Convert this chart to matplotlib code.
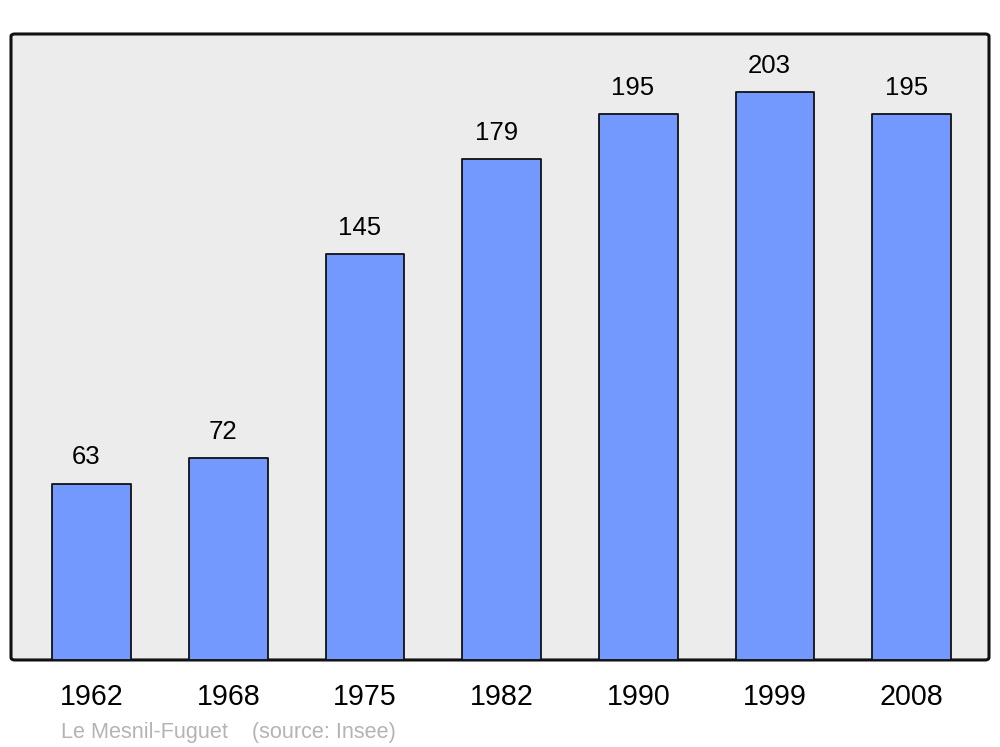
import matplotlib
matplotlib.use("Agg")
import matplotlib.pyplot as plt
from matplotlib.patches import FancyBboxPatch

years = ["1962", "1968", "1975", "1982", "1990", "1999", "2008"]
population = [63, 72, 145, 179, 195, 203, 195]
footer = "Le Mesnil-Fuguet    (source: Insee)"

plt.rcParams['font.family'] = ['Liberation Sans', 'DejaVu Sans']

fig = plt.figure(figsize=(10, 7.47), dpi=100)
ax = fig.add_axes([0.011, 0.1165, 0.978, 0.838])
ax.set_xlim(-0.59, len(years) - 1 + 0.565)
ax.set_ylim(0, 223.7)
for s in ax.spines.values():
    s.set_visible(False)
ax.patch.set_visible(False)
frame = FancyBboxPatch((0, 0), 1, 1, boxstyle="round,pad=0,rounding_size=0.004",
                       transform=ax.transAxes, facecolor="#ECECEC", edgecolor="#111111",
                       linewidth=2.2, zorder=0, clip_on=False)
ax.add_patch(frame)

x = list(range(len(years)))
bars = ax.bar(x, population, width=0.575, color="#7399FF", edgecolor="#111111",
              linewidth=1.3, zorder=2)
for b in bars:
    b.set_joinstyle("round")

for xi, v in zip(x, population):
    ax.annotate(str(v), (xi, v), xytext=(-4, 19), textcoords="offset points",
                ha="center", va="center", fontsize=18.5, color="black")

ax.set_xticks(x)
ax.set_xticklabels(years, fontsize=20.6)
ax.tick_params(axis="x", length=0, pad=16.5)
ax.set_yticks([])

fig.text(0.061, 0.006, footer, fontsize=15.6, color="#B4B4B4", ha="left", va="bottom")

fig.savefig("out.png", dpi=100)
